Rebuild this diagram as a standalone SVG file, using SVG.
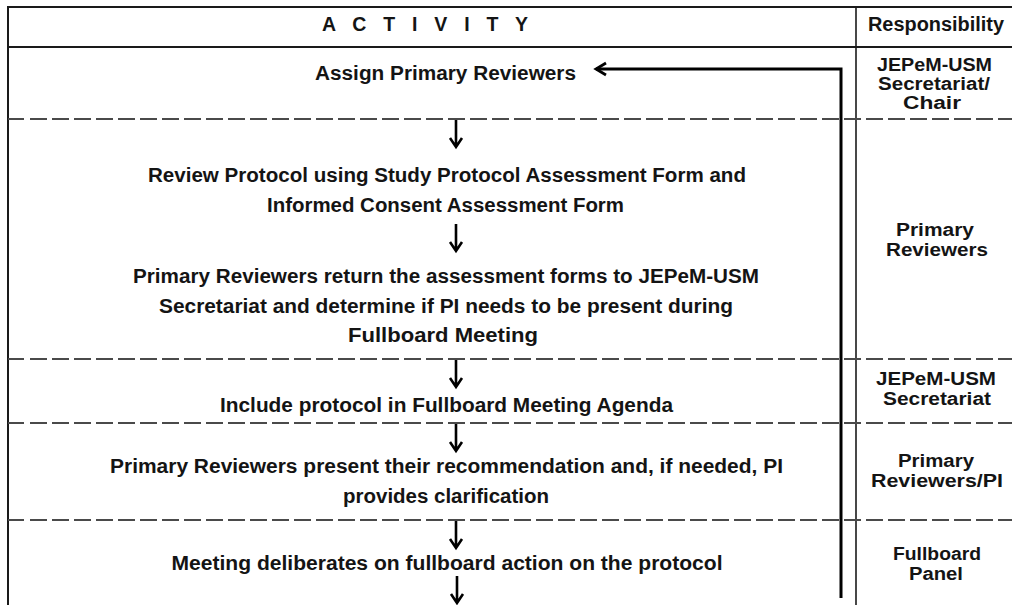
<svg xmlns="http://www.w3.org/2000/svg" width="1012" height="605" viewBox="0 0 1012 605">
<style>
text{font-family:"Liberation Sans",Arial,sans-serif;font-weight:bold;fill:#141414;text-anchor:middle;}
.main{font-size:19.5px;}
.resp{font-size:17.5px;}
.frame{stroke:#1a1a1a;stroke-width:2;fill:none;}
.col{stroke:#1a1a1a;stroke-width:1.6;fill:none;}
.dash{stroke:#4a4a4a;stroke-width:2;stroke-dasharray:17 5;fill:none;}
.dsolid{stroke:#4a4a4a;stroke-width:2;fill:none;}
.arr{stroke:#000;stroke-width:2.6;fill:none;stroke-linecap:butt;}
</style>
<defs>
<path id="down" d="M0,0 V27 M-6,18 L0,27 L6,18" class="arr"/>
</defs>
<rect width="1012" height="605" fill="#fff"/>
<g id="table">
<path class="frame" d="M8,605 V7 H1012"/>
<line class="frame" x1="8" y1="47" x2="1012" y2="47"/>
<line class="col" x1="856" y1="7" x2="856" y2="605"/>
<g id="separators">
<path class="dsolid" d="M8,119 H24 M8,359 H24 M8,423 H24 M8,520 H24"/>
<path class="dash" d="M30,119 H1012 M30,359 H1012 M30,423 H1012 M30,520 H1012"/>
</g>
</g>
<g id="header">
<text class="main" x="425" y="31" textLength="206" lengthAdjust="spacing">A C T I V I T Y</text>
<text class="main" x="936" y="31" textLength="136" lengthAdjust="spacingAndGlyphs">Responsibility</text>
</g>
<g id="n1">
<text class="main" x="445.5" y="80" textLength="261" lengthAdjust="spacingAndGlyphs">Assign Primary Reviewers</text>
</g>
<g id="r1">
<text class="resp" x="934.5" y="71" textLength="115" lengthAdjust="spacingAndGlyphs">JEPeM-USM</text>
<text class="resp" x="934" y="90" textLength="112" lengthAdjust="spacingAndGlyphs">Secretariat/</text>
<text class="resp" x="932" y="109" textLength="58" lengthAdjust="spacingAndGlyphs">Chair</text>
</g>
<g id="n2">
<text class="main" x="447" y="182" textLength="598" lengthAdjust="spacingAndGlyphs">Review Protocol  using Study Protocol Assessment Form and</text>
<text class="main" x="445.5" y="212" textLength="357" lengthAdjust="spacingAndGlyphs">Informed Consent Assessment Form</text>
</g>
<g id="n3">
<text class="main" x="446" y="283" textLength="626" lengthAdjust="spacingAndGlyphs">Primary Reviewers return the assessment forms to JEPeM-USM</text>
<text class="main" x="446" y="313" textLength="574" lengthAdjust="spacingAndGlyphs">Secretariat and determine if PI needs to be present during</text>
<text class="main" x="443" y="342" textLength="190" lengthAdjust="spacingAndGlyphs">Fullboard Meeting</text>
</g>
<g id="r2">
<text class="resp" x="935" y="236" textLength="78" lengthAdjust="spacingAndGlyphs">Primary</text>
<text class="resp" x="937" y="256" textLength="102" lengthAdjust="spacingAndGlyphs">Reviewers</text>
</g>
<g id="n4">
<text class="main" x="446.5" y="412" textLength="453" lengthAdjust="spacingAndGlyphs">Include protocol  in Fullboard Meeting Agenda</text>
</g>
<g id="r3">
<text class="resp" x="936" y="385" textLength="120" lengthAdjust="spacingAndGlyphs">JEPeM-USM</text>
<text class="resp" x="937" y="405" textLength="108" lengthAdjust="spacingAndGlyphs">Secretariat</text>
</g>
<g id="n5">
<text class="main" x="446.5" y="473" textLength="673" lengthAdjust="spacingAndGlyphs">Primary Reviewers present their recommendation  and, if needed, PI</text>
<text class="main" x="446" y="503" textLength="206" lengthAdjust="spacingAndGlyphs">provides clarification</text>
</g>
<g id="r4">
<text class="resp" x="936" y="467" textLength="76" lengthAdjust="spacingAndGlyphs">Primary</text>
<text class="resp" x="937" y="487" textLength="132" lengthAdjust="spacingAndGlyphs">Reviewers/PI</text>
</g>
<g id="n6">
<text class="main" x="447" y="570" textLength="551" lengthAdjust="spacingAndGlyphs">Meeting deliberates on fullboard action on the protocol</text>
</g>
<g id="r5">
<text class="resp" x="937" y="560" textLength="88" lengthAdjust="spacingAndGlyphs">Fullboard</text>
<text class="resp" x="936" y="580" textLength="54" lengthAdjust="spacingAndGlyphs">Panel</text>
</g>
<g id="connectors">
<use href="#down" x="456" y="120"/>
<use href="#down" x="456" y="224"/>
<use href="#down" x="456" y="360"/>
<use href="#down" x="456" y="424"/>
<use href="#down" x="456" y="521"/>
<use href="#down" x="457" y="576"/>
<path d="M841,598 V69 H596" stroke="#000" stroke-width="3" fill="none"/>
<path d="M606,63 L596,69 L606,75" stroke="#000" stroke-width="2.8" fill="none"/>
</g>
</svg>
